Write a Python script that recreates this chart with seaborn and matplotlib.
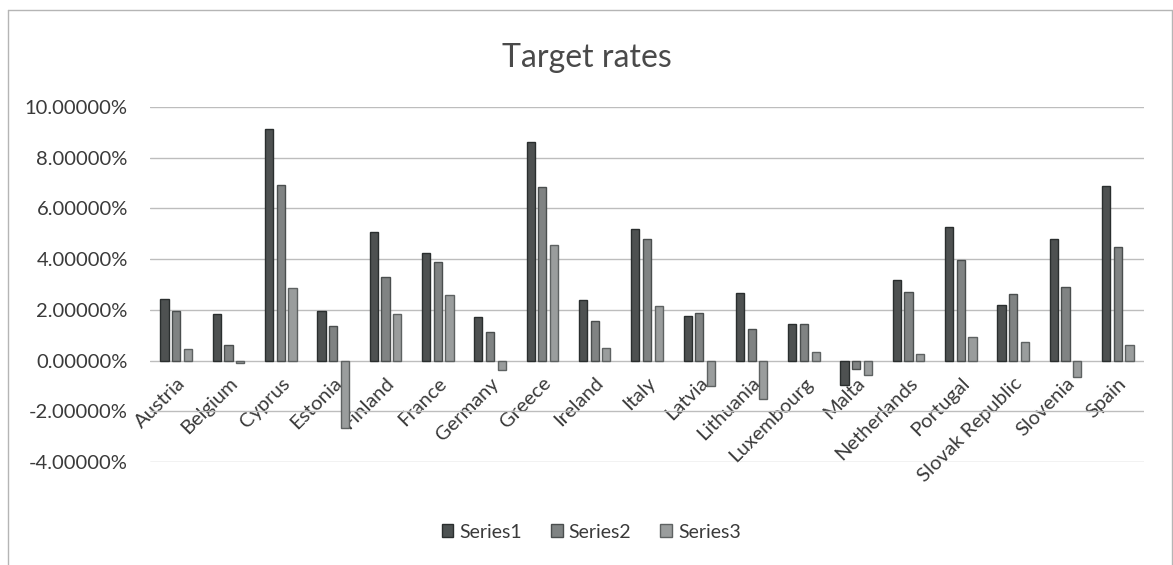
import matplotlib
matplotlib.use("Agg")
import matplotlib.pyplot as plt
import matplotlib.patches as mpatches
from matplotlib.lines import Line2D
import seaborn as sns
import pandas as pd

countries = ["Austria", "Belgium", "Cyprus", "Estonia", "Finland", "France",
             "Germany", "Greece", "Ireland", "Italy", "Latvia", "Lithuania",
             "Luxembourg", "Malta", "Netherlands", "Portugal",
             "Slovak Republic", "Slovenia", "Spain"]
series_names = ["Series1", "Series2", "Series3"]
series1 = [2.43, 1.84, 9.12, 1.97, 5.07, 4.26, 1.72, 8.61, 2.37, 5.20,
           1.76, 2.67, 1.46, -0.97, 3.17, 5.28, 2.21, 4.78, 6.90]
series2 = [1.97, 0.62, 6.93, 1.38, 3.29, 3.88, 1.13, 6.84, 1.58, 4.78,
           1.87, 1.25, 1.46, -0.34, 2.72, 3.95, 2.62, 2.92, 4.49]
series3 = [0.45, -0.08, 2.86, -2.65, 1.84, 2.59, -0.39, 4.55, 0.50, 2.14,
           -1.01, -1.53, 0.33, -0.57, 0.24, 0.93, 0.72, -0.63, 0.62]
y_ticks = [-4, -2, 0, 2, 4, 6, 8, 10]

df = pd.DataFrame({
    "country": countries * 3,
    "series": [s for s in series_names for _ in countries],
    "rate": series1 + series2 + series3,
})

fill_colors = ["#4d5252", "#7f8383", "#9a9d9d"]
edge_colors = ["#2a2e2e", "#4a4e4e", "#5e6262"]
text_color = "#3a3a3a"

sns.set_theme(style="white")
plt.rcParams["font.family"] = ["Lato", "DejaVu Sans"]

fig = plt.figure(figsize=(11.73, 5.65), dpi=100)
ax = fig.add_axes([150 / 1173, 1 - 462 / 565, 994 / 1173, 355 / 565])

sns.barplot(data=df, x="country", y="rate", hue="series", order=countries,
            hue_order=series_names, palette=fill_colors, width=0.67, gap=0.3,
            errorbar=None, legend=False, ax=ax, linewidth=1.0)

for container, ec in zip(ax.containers, edge_colors):
    for bar in container:
        bar.set_edgecolor(ec)

ax.set_ylim(-4, 10)
ax.set_xlim(-0.5, len(countries) - 0.5)
ax.set_yticks(y_ticks)
ax.set_yticklabels([f"{v:.5f}%" for v in y_ticks], fontsize=14.5, color=text_color)
ax.grid(axis="y", color="#bdbdbd", linewidth=1.0, linestyle="-")
ax.set_axisbelow(True)
for side in ["top", "right", "left"]:
    ax.spines[side].set_visible(False)
ax.spines["bottom"].set_position(("data", 0))
ax.spines["bottom"].set_visible(False)
ax.yaxis.set_tick_params(length=0, pad=16)
ax.xaxis.set_tick_params(length=0, pad=10)
ax.set_xlabel("")
ax.set_ylabel("")
for lbl in ax.get_xticklabels():
    lbl.set_rotation(45)
    lbl.set_ha("right")
    lbl.set_va("top")
    lbl.set_rotation_mode("anchor")
    lbl.set_fontsize(14.5)
    lbl.set_color(text_color)

fig.text(0.5, 1 - 58 / 565, "Target rates", ha="center", va="center",
         fontsize=23, color="#4a4a4a")

handles = [mpatches.Patch(facecolor=c, edgecolor=e, label=n)
           for c, e, n in zip(fill_colors, edge_colors, series_names)]
fig.legend(handles=handles, loc="center", bbox_to_anchor=(0.504, 1 - 532 / 565),
           ncol=3, frameon=False, fontsize=14, handlelength=0.6,
           handleheight=0.6, handletextpad=0.3, columnspacing=1.5,
           labelcolor=text_color)

# chart frame
for xs, ys in [((8, 8), (10, 565)), ((8, 1172), (10, 10)), ((1172, 1172), (10, 565))]:
    fig.add_artist(Line2D([x / 1173 for x in xs], [1 - y / 565 for y in ys],
                          color="#b5b5b5", linewidth=1.0))

fig.savefig("out.png", dpi=100)
